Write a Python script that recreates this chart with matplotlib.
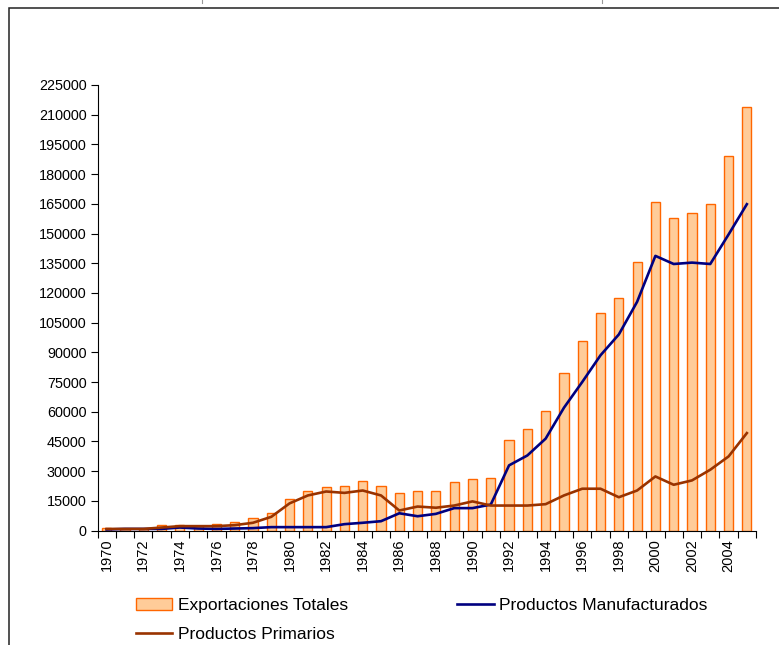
import numpy as np
import matplotlib.pyplot as plt
from matplotlib.lines import Line2D
from matplotlib.patches import Rectangle

plt.rcParams['font.family'] = ['Liberation Sans', 'DejaVu Sans']

years = list(range(1970, 2006))
totales = [1500, 1000, 1000, 2700, 2700, 2500, 3400, 4300, 6400, 9000,
           15900, 19900, 21900, 22500, 24800, 22500, 18900, 20200, 20200, 24400,
           25800, 26500, 45900, 51400, 60200, 79500, 95900, 109700, 117300, 135800,
           166000, 157900, 160600, 164800, 188900, 213700]
manufacturados = [500, 800, 800, 800, 1500, 1000, 800, 1000, 1200, 1700,
                  1700, 1700, 1700, 3200, 3900, 4700, 8700, 7200, 8400, 11300,
                  11300, 13100, 32900, 37900, 46400, 62000, 75000, 88500, 99000, 115500,
                  138700, 134600, 135300, 134600, 149500, 164800]
primarios = [800, 800, 800, 1500, 2200, 2200, 2200, 2700, 3900, 6900,
             13700, 17700, 19700, 19000, 20200, 17700, 10100, 12100, 11500, 12600,
             14700, 12600, 12600, 12600, 13300, 17700, 21100, 21100, 16800, 20200,
             27300, 23100, 25300, 30700, 37400, 49200]

fig = plt.figure(figsize=(7.79, 6.45), dpi=100)
ax = fig.add_axes([97.5 / 779, 1 - 530.5 / 645, (756 - 97.5) / 779, (530.5 - 85) / 645])

x = np.arange(len(years))
bars = ax.bar(x, totales, width=0.5, color='#FFCC99', edgecolor='#FF6600', linewidth=1.0,
              label='Exportaciones Totales', zorder=2)
l_man, = ax.plot(x, manufacturados, color='#000080', lw=1.9, label='Productos Manufacturados', zorder=3)
l_pri, = ax.plot(x, primarios, color='#993300', lw=1.9, label='Productos Primarios', zorder=3)

ax.set_xlim(-0.5, len(years) - 0.5)
ax.set_ylim(0, 225000)
ax.set_yticks(np.arange(0, 225001, 15000))
ax.tick_params(axis='y', labelsize=10.4, length=5, width=0.8, direction='out', pad=3)

ax.set_xticks(np.arange(-0.5, len(years), 1.0))
ax.set_xticklabels([])
ax.tick_params(axis='x', which='major', length=5, width=0.8, direction='out')
ax.set_xticks(x[::2], minor=True)
ax.set_xticklabels([str(y) for y in years[::2]], minor=True, rotation=90)
ax.tick_params(axis='x', which='minor', length=0, labelsize=10.5, pad=6)

for s in ['top', 'right']:
    ax.spines[s].set_visible(False)
for s in ['left', 'bottom']:
    ax.spines[s].set_linewidth(0.8)

fig.legend([bars, l_pri, l_man],
           ['Exportaciones Totales', 'Productos Primarios', 'Productos Manufacturados'],
           ncol=2, loc='upper left', bbox_to_anchor=(136 / 779, 1 - 598 / 645),
           frameon=False, fontsize=12.5, handlelength=2.1, handletextpad=0.3,
           columnspacing=6.3, labelspacing=0.78, borderaxespad=0, borderpad=0)

# outer frame
fig.add_artist(Rectangle((9 / 779, -0.1), 2, 1 - 7.5 / 645 + 0.1, transform=fig.transFigure,
                         fill=False, edgecolor='#222222', lw=1.1))
for px in (202, 602):
    fig.add_artist(Line2D([px / 779, px / 779], [1 - 2.5 / 645, 1.0], transform=fig.transFigure,
                          color='#999999', lw=0.8))

fig.savefig('out.png', dpi=100)
